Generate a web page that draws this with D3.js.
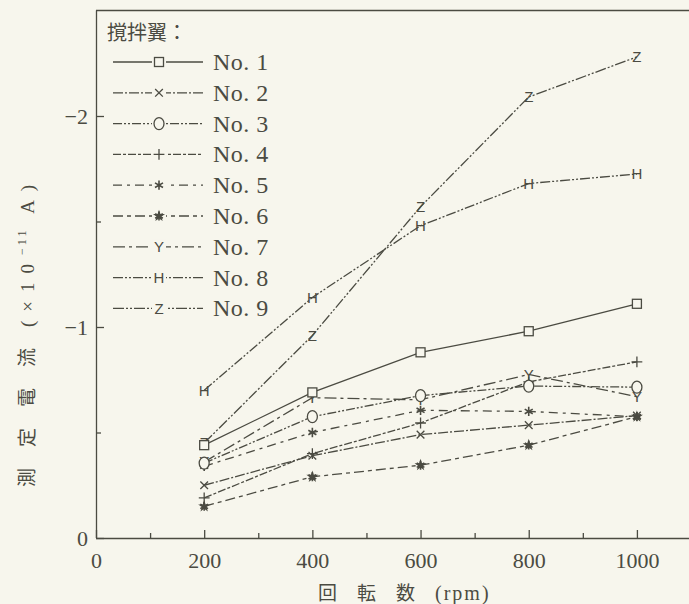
<!DOCTYPE html>
<html>
<head>
<meta charset="utf-8">
<script src="https://cdn.jsdelivr.net/npm/d3@7/dist/d3.min.js"></script>
<style>
  html, body { margin: 0; padding: 0; background: #f7f6ed; }
  svg { display: block; }
</style>
</head>
<body>
<svg id="chart" width="689" height="604"></svg>
<script>
// Rotation speed (rpm) at which each impeller was measured
const rpm = [200, 400, 600, 800, 1000];

// Measured current (×10^-11 A) for each impeller
const no1 = [-0.44, -0.69, -0.88, -0.98, -1.11];
const no2 = [-0.25, -0.39, -0.49, -0.535, -0.58];
const no3 = [-0.355, -0.575, -0.675, -0.72, -0.715];
const no4 = [-0.19, -0.40, -0.545, -0.74, -0.835];
const no5 = [-0.34, -0.50, -0.605, -0.60, -0.575];
const no6 = [-0.15, -0.29, -0.345, -0.44, -0.575];
const no7 = [-0.36, -0.665, -0.655, -0.775, -0.67];
const no8 = [-0.70, -1.14, -1.48, -1.68, -1.725];
const no9 = [-0.45, -0.96, -1.57, -2.09, -2.28];

const seriesLabels = ["No. 1", "No. 2", "No. 3", "No. 4", "No. 5", "No. 6", "No. 7", "No. 8", "No. 9"];
const seriesValues = [no1, no2, no3, no4, no5, no6, no7, no8, no9];
const markerKinds = ["square", "x", "circle", "plus", "asterisk", "star", "Y", "H", "Z"];
const dashPatterns = ["none", "10,2,2,2", "9,2,2,2,2,2", "8,2,3,2", "9,5,3,5", "10,4,4,4", "12,4,3,4", "10,2,2,2,2,2", "11,2,2,2,2,2"];

const xTicks = [0, 100, 200, 300, 400, 500, 600, 700, 800, 900, 1000, 1100];
const xLabels = [0, 200, 400, 600, 800, 1000];
const yTicks = [0, -0.5, -1, -1.5, -2];
const yLabels = [0, -1, -2];

const legendTitle = "撹拌翼：";
const xTitleWords = "回転数";
const xTitleUnit = "(rpm)";
const yTitleWords = "測定電流";
const yTitleUnit = ["(×10", "−11", " A)"];

const ink = "#4b4b42";
const paper = "#f7f6ed";
const svg = d3.select("#chart");

const x = d3.scaleLinear().domain([0, 1100]).range([96, 691]);
const y = d3.scaleLinear().domain([0, -2.5]).range([538, 10.5]);

const fmtMinus = v => (v === 0 ? "0" : "\u2212" + Math.abs(v));
const serif = "'Liberation Serif', 'DejaVu Serif', serif";
const cjk = "'Noto Sans CJK JP', 'Noto Sans CJK SC', sans-serif";

// frame: top rule and left/bottom axes
svg.append("line")
  .attr("x1", x(0)).attr("x2", 689)
  .attr("y1", y(-2.5)).attr("y2", y(-2.5))
  .attr("stroke", ink).attr("stroke-width", 1.4);

// minor x ticks
const xMinor = svg.append("g")
  .attr("transform", `translate(0,${y(0)})`)
  .call(d3.axisBottom(x).tickValues(xTicks.filter(t => !xLabels.includes(t))).tickSize(-5).tickFormat(""));
xMinor.select(".domain").remove();

// major x ticks and labels
const xAxis = svg.append("g")
  .attr("transform", `translate(0,${y(0)})`)
  .call(d3.axisBottom(x).tickValues(xLabels).tickSize(-8).tickSizeOuter(0).tickPadding(14).tickFormat(d => d));
xAxis.select(".domain").attr("d", `M${x(0)},0.5H689`);

const yAxis = svg.append("g")
  .attr("transform", `translate(${x(0)},0)`)
  .call(d3.axisLeft(y).tickValues(yTicks).tickSize(-8).tickSizeOuter(0).tickPadding(8)
    .tickFormat(d => (yLabels.includes(d) ? fmtMinus(d) : "")));
yAxis.select(".domain").attr("d", `M0.5,${y(0)}V${y(-2.5)}`);
yAxis.selectAll(".tick line").filter(d => !yLabels.includes(d)).attr("x2", 5);

[xMinor, xAxis, yAxis].forEach(g => {
  g.selectAll("path, line").attr("stroke", ink).attr("stroke-width", 1.3);
  g.selectAll("text")
    .attr("fill", ink)
    .attr("font-family", serif)
    .attr("font-size", 22);
});
xAxis.selectAll(".tick text").attr("dy", "0.71em");
yAxis.selectAll(".tick text").attr("dy", "0.34em");

// x axis title
const xt = svg.append("text")
  .attr("x", 318).attr("y", 600)
  .attr("fill", ink);
xt.append("tspan")
  .attr("font-family", cjk).attr("font-size", 19)
  .attr("letter-spacing", 20)
  .text(xTitleWords);
xt.append("tspan")
  .attr("font-family", serif).attr("font-size", 20)
  .attr("letter-spacing", 2)
  .text(xTitleUnit);

// y axis title, reading bottom to top
const yt = svg.append("text")
  .attr("transform", "translate(34,487) rotate(-90)")
  .attr("fill", ink);
yt.append("tspan")
  .attr("font-family", cjk).attr("font-size", 19)
  .attr("letter-spacing", 21)
  .text(yTitleWords);
yt.append("tspan")
  .attr("font-family", serif).attr("font-size", 19)
  .attr("letter-spacing", 9)
  .text(yTitleUnit[0]);
yt.append("tspan")
  .attr("font-family", serif).attr("font-size", 12)
  .attr("letter-spacing", 3)
  .attr("dy", -8)
  .text(yTitleUnit[1]);
yt.append("tspan")
  .attr("font-family", serif).attr("font-size", 19)
  .attr("letter-spacing", 9)
  .attr("dy", 8)
  .text(yTitleUnit[2]);

// marker glyphs
function drawMarker(g, kind, cx, cy) {
  const s = g.append("g").attr("transform", `translate(${cx},${cy})`);
  const stroke = { stroke: ink, "stroke-width": 1.3, fill: "none" };
  const applyAttrs = (sel, a) => { Object.entries(a).forEach(([k, v]) => sel.attr(k, v)); return sel; };
  switch (kind) {
    case "square":
      applyAttrs(s.append("rect").attr("x", -4.5).attr("y", -4.5).attr("width", 9).attr("height", 9), stroke).attr("fill", paper);
      break;
    case "circle":
      applyAttrs(s.append("ellipse").attr("rx", 5).attr("ry", 6), stroke).attr("fill", paper);
      break;
    case "x":
      applyAttrs(s.append("path").attr("d", d3.symbol(d3.symbolTimes, 40)()), stroke);
      break;
    case "plus":
      applyAttrs(s.append("path").attr("d", d3.symbol(d3.symbolPlus, 40)()), stroke);
      break;
    case "asterisk":
      applyAttrs(s.append("path").attr("d", d3.symbol(d3.symbolAsterisk, 60)()), stroke).attr("stroke-width", 1.6);
      break;
    case "star":
      s.append("path").attr("d", d3.symbol(d3.symbolStar, 45)()).attr("fill", ink);
      applyAttrs(s.append("path").attr("d", d3.symbol(d3.symbolAsterisk, 55)()), stroke).attr("stroke-width", 1.6);
      break;
    default:
      s.append("text")
        .attr("text-anchor", "middle").attr("dy", "0.36em")
        .attr("font-family", "'Liberation Sans', 'DejaVu Sans', sans-serif")
        .attr("font-size", 15)
        .attr("fill", ink)
        .text(kind);
  }
}

// series lines, then markers (the solid series on top)
const line = d3.line().x((d, i) => x(rpm[i])).y(d => y(d));
const plot = svg.append("g");
seriesValues.forEach((vals, k) => {
  plot.append("path")
    .attr("d", line(vals))
    .attr("fill", "none")
    .attr("stroke", ink)
    .attr("stroke-width", 1.3)
    .attr("stroke-dasharray", dashPatterns[k]);
});
const markerOrder = [8, 7, 6, 5, 4, 3, 2, 1, 0];
markerOrder.forEach(k => {
  seriesValues[k].forEach((v, i) => drawMarker(plot, markerKinds[k], x(rpm[i]), y(v)));
});

// legend
const legend = svg.append("g");
legend.append("text")
  .attr("x", 107).attr("y", 40)
  .attr("font-family", cjk)
  .attr("font-size", 20)
  .attr("fill", ink)
  .text(legendTitle);

seriesLabels.forEach((label, k) => {
  const cy = 62 + k * 30.8;
  legend.append("line")
    .attr("x1", 113).attr("x2", 203)
    .attr("y1", cy).attr("y2", cy)
    .attr("stroke", ink).attr("stroke-width", 1.3)
    .attr("stroke-dasharray", dashPatterns[k]);
  legend.append("rect")
    .attr("x", 152).attr("y", cy - 7).attr("width", 14).attr("height", 14)
    .attr("fill", paper);
  drawMarker(legend, markerKinds[k], 159, cy);
  legend.append("text")
    .attr("x", 213).attr("y", cy + 8)
    .attr("font-family", serif)
    .attr("font-size", 24)
    .attr("letter-spacing", 0.5)
    .attr("fill", ink)
    .text(label);
});
</script>
</body>
</html>
